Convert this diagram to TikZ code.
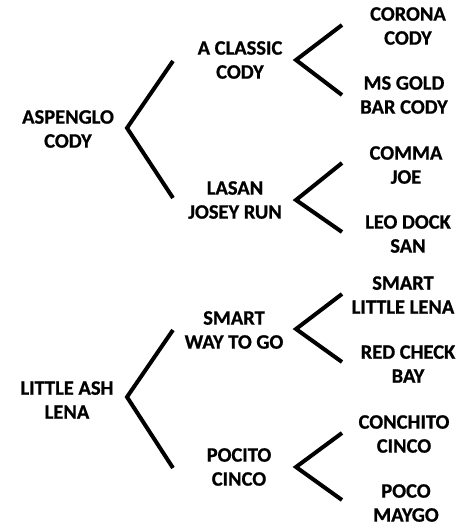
\documentclass[tikz,border=0pt]{standalone}
\usepackage{fontspec}
\setmainfont{Carlito}
\newfontfamily\heavy{Carlito Bold}[FakeBold=0.8]
\begin{document}
\begin{tikzpicture}[x=1pt,y=-1pt,
  horse/.style={align=center,font=\fontsize{20.5}{24}\selectfont\heavy,inner sep=0pt},
  bracket/.style={line width=4pt,line join=miter,line cap=butt}]
\useasboundingbox (0,0) rectangle (461,527);
% names
\node[horse] (r1) at (68,129) {ASPENGLO\\CODY};
\node[horse] (r2) at (67,400) {LITTLE ASH\\LENA};
\node[horse] (p1) at (240,60) {A CLASSIC\\CODY};
\node[horse] (p2) at (235,200) {LASAN\\JOSEY RUN};
\node[horse] (p3) at (234,330) {SMART\\WAY TO GO};
\node[horse] (p4) at (239,467) {POCITO\\CINCO};
\node[horse] (g1) at (408,26) {CORONA\\CODY};
\node[horse] (g2) at (404,95) {MS GOLD\\BAR CODY};
\node[horse] (g3) at (406,165) {COMMA\\JOE};
\node[horse] (g4) at (408,234) {LEO DOCK\\SAN};
\node[horse] (g5) at (403,295) {SMART\\LITTLE LENA};
\node[horse] (g6) at (408,364) {RED CHECK\\BAY};
\node[horse] (g7) at (404,434) {CONCHITO\\CINCO};
\node[horse] (g8) at (406,503) {POCO\\MAYGO};
% bracket points
\coordinate (v1) at (127,128); \coordinate (v1a) at (173,61); \coordinate (v1b) at (173,198);
\coordinate (v2) at (127,397); \coordinate (v2a) at (173,330); \coordinate (v2b) at (173,468);
\coordinate (w1) at (296,60);  \coordinate (w1a) at (342,25);  \coordinate (w1b) at (342,95);
\coordinate (w2) at (296,200); \coordinate (w2a) at (342,163); \coordinate (w2b) at (342,232);
\coordinate (w3) at (296,329); \coordinate (w3a) at (342,294); \coordinate (w3b) at (342,362);
\coordinate (w4) at (296,467); \coordinate (w4a) at (342,433); \coordinate (w4b) at (342,500);
\draw[bracket] (v1a) -- (v1) -- (v1b);
\draw[bracket] (v2a) -- (v2) -- (v2b);
\draw[bracket] (w1a) -- (w1) -- (w1b);
\draw[bracket] (w2a) -- (w2) -- (w2b);
\draw[bracket] (w3a) -- (w3) -- (w3b);
\draw[bracket] (w4a) -- (w4) -- (w4b);
\end{tikzpicture}
\end{document}
